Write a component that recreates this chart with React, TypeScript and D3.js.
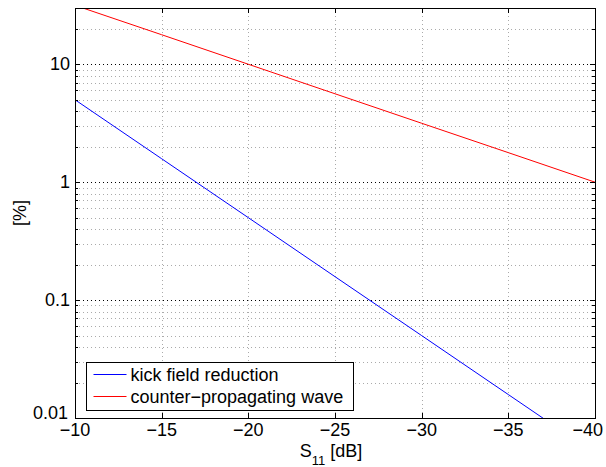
import { useEffect, useRef } from 'react';
import * as d3 from 'd3';

// S11 reflection values [dB]
const s11 = [-10, -15, -20, -25, -30, -35, -40];
// kick field reduction [%]
const kickReduction = [5, 1.58, 0.5, 0.158, 0.05, 0.0158, 0.005];
// counter-propagating wave [%]
const counterWave = [31.6, 17.8, 10, 5.62, 3.16, 1.78, 1];

const xTicks = [-10, -15, -20, -25, -30, -35, -40];
const yTicks = [0.01, 0.1, 1, 10];
const yTickLabels = ['0.01', '0.1', '1', '10'];

const seriesNames = ['kick field reduction', 'counter\u2212propagating wave'];
const seriesColors = ['#0000ff', '#ff0000'];

function App() {
  const svgRef = useRef<SVGSVGElement>(null);

  useEffect(() => {
    const margin = { top: 8, right: 11, bottom: 49, left: 75 },
      W = 606,
      H = 467,
      width = W - margin.left - margin.right,
      height = H - margin.top - margin.bottom;

    const root = d3.select(svgRef.current);
    root.selectAll('*').remove();

    const svg = root
      .append('g')
      .attr('transform', `translate(${margin.left}, ${margin.top})`);

    const x = d3.scaleLinear().domain([-10, -40]).range([0, width]);
    const y = d3.scaleLog().domain([0.01, 30]).range([height, 0]);

    const font = 'Liberation Sans, Arial, Helvetica, sans-serif';
    const fs = 18;

    // minor log values
    const minor: number[] = [];
    [0.01, 0.1, 1, 10].forEach((d) => {
      for (let k = 2; k <= 9; k++) {
        const v = d * k;
        if (v < 30) minor.push(v);
      }
    });

    const grid = svg.append('g');
    // minor horizontal grid
    grid
      .selectAll('.ymin')
      .data(minor)
      .enter()
      .append('line')
      .attr('x1', 0)
      .attr('x2', width)
      .attr('y1', (d) => Math.round(y(d)) + 0.5)
      .attr('y2', (d) => Math.round(y(d)) + 0.5)
      .attr('stroke', '#aaa')
      .attr('stroke-width', 1)
      .attr('stroke-dasharray', '1,3');
    // major horizontal grid
    grid
      .selectAll('.ymaj')
      .data(yTicks.slice(1))
      .enter()
      .append('line')
      .attr('x1', 0)
      .attr('x2', width)
      .attr('y1', (d) => Math.round(y(d)) + 0.5)
      .attr('y2', (d) => Math.round(y(d)) + 0.5)
      .attr('stroke', '#000')
      .attr('stroke-width', 1)
      .attr('stroke-dasharray', '1,3');
    // vertical grid
    grid
      .selectAll('.xg')
      .data(xTicks.slice(1, -1))
      .enter()
      .append('line')
      .attr('x1', (d) => Math.round(x(d)) + 0.5)
      .attr('x2', (d) => Math.round(x(d)) + 0.5)
      .attr('y1', 0)
      .attr('y2', height)
      .attr('stroke', '#aaa')
      .attr('stroke-width', 1)
      .attr('stroke-dasharray', '1,3');

    // clip for lines
    root
      .append('defs')
      .append('clipPath')
      .attr('id', 'plotclip')
      .append('rect')
      .attr('width', width)
      .attr('height', height);

    const line = d3
      .line<number>()
      .x((d, i) => x(s11[i]))
      .y((d) => y(d));

    [kickReduction, counterWave].forEach((vals, i) => {
      svg
        .append('path')
        .datum(vals)
        .attr('clip-path', 'url(#plotclip)')
        .attr('fill', 'none')
        .attr('stroke', seriesColors[i])
        .attr('stroke-width', 1)
        .attr('d', line);
    });

    // ticks on all sides
    const ticks = svg.append('g').attr('stroke', '#000').attr('stroke-width', 1);
    xTicks.forEach((t) => {
      const px = Math.round(x(t)) + 0.5;
      ticks.append('line').attr('x1', px).attr('x2', px).attr('y1', height).attr('y2', height - 5);
      ticks.append('line').attr('x1', px).attr('x2', px).attr('y1', 0).attr('y2', 5);
    });
    yTicks.forEach((t) => {
      const py = Math.round(y(t)) + 0.5;
      ticks.append('line').attr('x1', 0).attr('x2', 5).attr('y1', py).attr('y2', py);
      ticks.append('line').attr('x1', width).attr('x2', width - 5).attr('y1', py).attr('y2', py);
    });
    minor.forEach((t) => {
      const py = Math.round(y(t)) + 0.5;
      ticks.append('line').attr('x1', 0).attr('x2', 3).attr('y1', py).attr('y2', py);
      ticks.append('line').attr('x1', width).attr('x2', width - 3).attr('y1', py).attr('y2', py);
    });

    // box
    svg
      .append('rect')
      .attr('x', 0.5)
      .attr('y', 0.5)
      .attr('width', width)
      .attr('height', height)
      .attr('fill', 'none')
      .attr('stroke', '#000')
      .attr('stroke-width', 1);

    // tick labels
    svg
      .selectAll('.xl')
      .data(xTicks)
      .enter()
      .append('text')
      .attr('x', (d, i) => (i === xTicks.length - 1 ? width + 8 : x(d)))
      .attr('y', height + 18)
      .attr('text-anchor', (d, i) => (i === xTicks.length - 1 ? 'end' : 'middle'))
      .attr('font-family', font)
      .attr('font-size', fs)
      .text((d) => (d < 0 ? '\u2212' + Math.abs(d) : String(d)));

    svg
      .selectAll('.yl')
      .data(yTicks)
      .enter()
      .append('text')
      .attr('x', (d, i) => (i === 0 ? -7 : -5))
      .attr('y', (d, i) => (i === 0 ? y(d) + 1 : y(d) + 6))
      .attr('text-anchor', 'end')
      .attr('font-family', font)
      .attr('font-size', fs)
      .text((d, i) => yTickLabels[i]);

    // axis labels
    const xl = svg
      .append('text')
      .attr('x', width / 2 - 4)
      .attr('y', height + 39)
      .attr('text-anchor', 'middle')
      .attr('font-family', font)
      .attr('font-size', fs);
    xl.append('tspan').text('S');
    xl.append('tspan').attr('font-size', 13).attr('dy', 8).text('11');
    xl.append('tspan').attr('dy', -8).text(' [dB]');

    svg
      .append('text')
      .attr('transform', `translate(${-49}, ${height / 2}) rotate(-90)`)
      .attr('text-anchor', 'middle')
      .attr('font-family', font)
      .attr('font-size', fs)
      .text('[%]');

    // legend
    const lg = svg.append('g').attr('transform', 'translate(11.5, 354.5)');
    lg.append('rect')
      .attr('width', 267)
      .attr('height', 48)
      .attr('fill', '#fff')
      .attr('stroke', '#000')
      .attr('stroke-width', 1);
    seriesNames.forEach((name, i) => {
      const ly = 12 + i * 22;
      lg.append('line')
        .attr('x1', 7)
        .attr('x2', 40)
        .attr('y1', ly)
        .attr('y2', ly)
        .attr('stroke', seriesColors[i])
        .attr('stroke-width', 1);
      lg.append('text')
        .attr('x', 44)
        .attr('y', ly + 6)
        .attr('font-family', font)
        .attr('font-size', fs)
        .text(name);
    });
  }, []);

  return (
    <div>
      <svg
        ref={svgRef}
        width={606}
        height={467}
        style={{ display: 'block', position: 'absolute', left: 0, top: 0 }}
      ></svg>
    </div>
  );
}

export default App;
